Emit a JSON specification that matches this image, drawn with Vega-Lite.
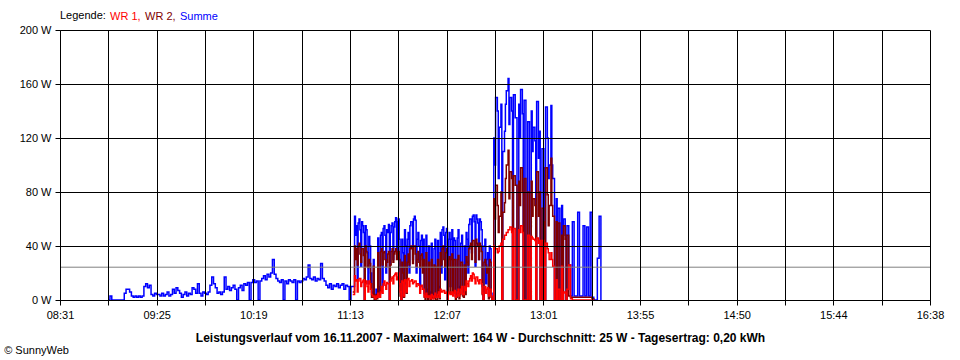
{
"$schema": "https://vega.github.io/schema/vega-lite/v6.json",
"width": 870, "height": 270,
"autosize": {"type": "none"},
"padding": {"left": 60, "top": 30, "right": 30, "bottom": 60},
"background": "white",
"config": {"view": {"stroke": null}, "font": "Liberation Sans"},
"title": {"text": "© SunnyWeb", "orient": "bottom", "anchor": "start", "frame": "bounds", "fontSize": 11, "fontWeight": "normal", "color": "black", "font": "Liberation Sans", "offset": 2, "dx": -15},
"layer": [
{
"data": {"values": [
{"t":538,"summe":0},{"t":539,"summe":3},{"t":540,"summe":0},{"t":546,"summe":0},{"t":547,"summe":5},{"t":548,"summe":8},{"t":549,"summe":8},{"t":550,"summe":6},{"t":551,"summe":3},{"t":552,"summe":2},{"t":553,"summe":3},{"t":554,"summe":2},{"t":555,"summe":3},{"t":556,"summe":2},{"t":557,"summe":3},{"t":558,"summe":10},{"t":559,"summe":12},{"t":560,"summe":9},{"t":561,"summe":11},{"t":562,"summe":4},{"t":563,"summe":3},{"t":564,"summe":5},{"t":565,"summe":4},{"t":566,"summe":4},{"t":567,"summe":3},{"t":568,"summe":5},{"t":569,"summe":3},{"t":570,"summe":4},{"t":571,"summe":6},{"t":572,"summe":3},{"t":573,"summe":4},{"t":574,"summe":8},{"t":575,"summe":5},{"t":576,"summe":9},{"t":577,"summe":7},{"t":578,"summe":5},{"t":579,"summe":2},{"t":580,"summe":4},{"t":581,"summe":6},{"t":582,"summe":3},{"t":583,"summe":5},{"t":584,"summe":4},{"t":585,"summe":9},{"t":586,"summe":8},{"t":587,"summe":5},{"t":588,"summe":12},{"t":589,"summe":5},{"t":590,"summe":3},{"t":591,"summe":6},{"t":592,"summe":5},{"t":593,"summe":4},{"t":594,"summe":6},{"t":595,"summe":11},{"t":596,"summe":17},{"t":597,"summe":12},{"t":598,"summe":9},{"t":599,"summe":5},{"t":600,"summe":6},{"t":601,"summe":4},{"t":602,"summe":6},{"t":603,"summe":17},{"t":604,"summe":8},{"t":605,"summe":10},{"t":606,"summe":7},{"t":607,"summe":9},{"t":608,"summe":11},{"t":609,"summe":8},{"t":610,"summe":0},{"t":611,"summe":9},{"t":612,"summe":11},{"t":613,"summe":7},{"t":614,"summe":12},{"t":615,"summe":11},{"t":616,"summe":13},{"t":617,"summe":0},{"t":618,"summe":13},{"t":619,"summe":15},{"t":620,"summe":13},{"t":621,"summe":14},{"t":622,"summe":0},{"t":623,"summe":14},{"t":624,"summe":16},{"t":625,"summe":18},{"t":626,"summe":15},{"t":627,"summe":19},{"t":628,"summe":17},{"t":629,"summe":20},{"t":630,"summe":30},{"t":631,"summe":19},{"t":632,"summe":16},{"t":633,"summe":14},{"t":634,"summe":13},{"t":635,"summe":15},{"t":636,"summe":0},{"t":637,"summe":14},{"t":638,"summe":12},{"t":639,"summe":15},{"t":640,"summe":14},{"t":641,"summe":13},{"t":642,"summe":15},{"t":643,"summe":0},{"t":644,"summe":14},{"t":645,"summe":13},{"t":646,"summe":14},{"t":647,"summe":16},{"t":648,"summe":15},{"t":649,"summe":17},{"t":650,"summe":26},{"t":651,"summe":16},{"t":652,"summe":15},{"t":653,"summe":17},{"t":654,"summe":14},{"t":655,"summe":16},{"t":656,"summe":15},{"t":657,"summe":27},{"t":658,"summe":16},{"t":659,"summe":14},{"t":660,"summe":11},{"t":661,"summe":9},{"t":662,"summe":12},{"t":663,"summe":8},{"t":664,"summe":11},{"t":665,"summe":10},{"t":666,"summe":12},{"t":667,"summe":9},{"t":668,"summe":11},{"t":669,"summe":12},{"t":670,"summe":8},{"t":671,"summe":11},{"t":672,"summe":10},{"t":673,"summe":0},{"t":674,"summe":10},
{"t":675,"summe":10,"wr1":4,"wr2":6},{"t":676,"summe":62,"wr1":18,"wr2":40},{"t":677,"summe":55,"wr1":15,"wr2":38},{"t":678,"summe":57,"wr1":14,"wr2":40},{"t":679,"summe":52,"wr1":16,"wr2":34},{"t":680,"summe":58,"wr1":13,"wr2":38},{"t":681,"summe":50,"wr1":15,"wr2":33},{"t":682,"summe":55,"wr1":12,"wr2":40},{"t":683,"summe":35,"wr1":10,"wr2":25},{"t":684,"summe":47,"wr1":14,"wr2":30},{"t":685,"summe":20,"wr1":8,"wr2":12},{"t":686,"summe":5,"wr1":3,"wr2":2},{"t":687,"summe":3,"wr1":2,"wr2":0},{"t":688,"summe":8,"wr1":3,"wr2":4},{"t":689,"summe":46,"wr1":5,"wr2":35},{"t":690,"summe":4,"wr1":2,"wr2":2},{"t":691,"summe":50,"wr1":10,"wr2":38},{"t":692,"summe":53,"wr1":12,"wr2":35},{"t":693,"summe":48,"wr1":11,"wr2":30},{"t":694,"summe":52,"wr1":13,"wr2":28},{"t":695,"summe":56,"wr1":12,"wr2":36},{"t":696,"summe":50,"wr1":14,"wr2":26},{"t":697,"summe":57,"wr1":17,"wr2":38},{"t":698,"summe":54,"wr1":18,"wr2":34},{"t":699,"summe":61,"wr1":20,"wr2":38},{"t":700,"summe":58,"wr1":17,"wr2":36},{"t":701,"summe":45,"wr1":12,"wr2":30},{"t":702,"summe":0,"wr1":0,"wr2":0},{"t":703,"summe":35,"wr1":13,"wr2":20},{"t":704,"summe":52,"wr1":15,"wr2":33},{"t":705,"summe":12,"wr1":6,"wr2":5},{"t":706,"summe":50,"wr1":16,"wr2":34},{"t":707,"summe":55,"wr1":14,"wr2":38},{"t":708,"summe":58,"wr1":15,"wr2":38},{"t":709,"summe":60,"wr1":13,"wr2":40},{"t":710,"summe":59,"wr1":14,"wr2":34},{"t":711,"summe":45,"wr1":12,"wr2":30},{"t":712,"summe":40,"wr1":11,"wr2":28},{"t":713,"summe":44,"wr1":10,"wr2":33},{"t":714,"summe":30,"wr1":8,"wr2":20},{"t":715,"summe":5,"wr1":3,"wr2":2},{"t":716,"summe":48,"wr1":5,"wr2":35},{"t":717,"summe":3,"wr1":2,"wr2":0},{"t":718,"summe":6,"wr1":3,"wr2":3},{"t":719,"summe":42,"wr1":4,"wr2":30},{"t":720,"summe":2,"wr1":1,"wr2":1},{"t":721,"summe":45,"wr1":5,"wr2":25},{"t":722,"summe":4,"wr1":2,"wr2":0},{"t":723,"summe":10,"wr1":6,"wr2":3},{"t":724,"summe":50,"wr1":8,"wr2":35},{"t":725,"summe":52,"wr1":6,"wr2":38},{"t":726,"summe":48,"wr1":7,"wr2":30},{"t":727,"summe":50,"wr1":5,"wr2":35},{"t":728,"summe":0,"wr1":0,"wr2":0},{"t":729,"summe":50,"wr1":6,"wr2":32},{"t":730,"summe":45,"wr1":4,"wr2":30},{"t":731,"summe":8,"wr1":3,"wr2":5},{"t":732,"summe":44,"wr1":7,"wr2":30},{"t":733,"summe":5,"wr1":3,"wr2":2},{"t":734,"summe":52,"wr1":8,"wr2":33},{"t":735,"summe":10,"wr1":5,"wr2":4},{"t":736,"summe":48,"wr1":10,"wr2":28},{"t":737,"summe":6,"wr1":4,"wr2":2},{"t":738,"summe":12,"wr1":7,"wr2":4},{"t":739,"summe":45,"wr1":12,"wr2":28},{"t":740,"summe":56,"wr1":14,"wr2":38},{"t":741,"summe":60,"wr1":18,"wr2":42},{"t":742,"summe":62,"wr1":20,"wr2":44},{"t":743,"summe":58,"wr1":16,"wr2":40},{"t":744,"summe":63,"wr1":17,"wr2":45},{"t":745,"summe":57,"wr1":14,"wr2":40},{"t":746,"summe":60,"wr1":15,"wr2":42},{"t":747,"summe":52,"wr1":12,"wr2":36},{"t":748,"summe":0,"wr1":0,"wr2":0},{"t":749,"summe":45,"wr1":10,"wr2":30},{"t":750,"summe":30,"wr1":8,"wr2":20},{"t":751,"summe":4,"wr1":3,"wr2":1},{"t":752,"summe":38,"wr1":8,"wr2":28},{"t":753,"summe":0,"wr1":0,"wr2":0},{"t":754,"summe":120,"wr1":40,"wr2":75},{"t":755,"summe":150,"wr1":38,"wr2":85},{"t":756,"summe":140,"wr1":35,"wr2":70},{"t":757,"summe":128,"wr1":40,"wr2":62},{"t":758,"summe":145,"wr1":42,"wr2":80},{"t":759,"summe":110,"wr1":45,"wr2":65},{"t":760,"summe":125,"wr1":48,"wr2":72},{"t":761,"summe":155,"wr1":50,"wr2":100},{"t":762,"summe":164,"wr1":52,"wr2":111},{"t":763,"summe":150,"wr1":54,"wr2":95},{"t":764,"summe":140,"wr1":50,"wr2":90},{"t":765,"summe":152,"wr1":53,"wr2":92},{"t":766,"summe":135,"wr1":0,"wr2":85},{"t":767,"summe":0,"wr1":0,"wr2":0},{"t":768,"summe":145,"wr1":52,"wr2":88},{"t":769,"summe":156,"wr1":55,"wr2":98},{"t":770,"summe":138,"wr1":50,"wr2":80},{"t":771,"summe":148,"wr1":0,"wr2":90},{"t":772,"summe":0,"wr1":0,"wr2":0},{"t":773,"summe":132,"wr1":48,"wr2":80},{"t":774,"summe":0,"wr1":0,"wr2":0},{"t":775,"summe":140,"wr1":47,"wr2":88},{"t":776,"summe":128,"wr1":45,"wr2":75},{"t":777,"summe":118,"wr1":44,"wr2":70},{"t":778,"summe":147,"wr1":46,"wr2":95},{"t":779,"summe":105,"wr1":42,"wr2":62},{"t":780,"summe":0,"wr1":0,"wr2":0},{"t":781,"summe":112,"wr1":44,"wr2":68},{"t":782,"summe":98,"wr1":40,"wr2":58},{"t":783,"summe":143,"wr1":42,"wr2":98},{"t":784,"summe":120,"wr1":38,"wr2":78},{"t":785,"summe":100,"wr1":30,"wr2":70},{"t":786,"summe":144,"wr1":35,"wr2":105},{"t":787,"summe":90,"wr1":25,"wr2":62},{"t":788,"summe":0,"wr1":0,"wr2":0},{"t":789,"summe":75,"wr1":15,"wr2":58},{"t":790,"summe":68,"wr1":8,"wr2":57},{"t":791,"summe":0,"wr1":0,"wr2":0},{"t":792,"summe":70,"wr1":25,"wr2":48},{"t":793,"summe":60,"wr1":6,"wr2":55},{"t":794,"summe":48,"wr1":5,"wr2":45},{"t":795,"summe":55,"wr1":8,"wr2":48},{"t":796,"summe":26,"wr1":26,"wr2":3},{"t":797,"summe":3,"wr1":1,"wr2":2},{"t":798,"summe":58,"wr1":0,"wr2":2},{"t":799,"summe":3,"wr1":0,"wr2":2},{"t":800,"summe":3,"wr1":0,"wr2":2},{"t":801,"summe":65,"wr1":0,"wr2":2},{"t":802,"summe":3,"wr1":0,"wr2":2},{"t":803,"summe":3,"wr1":0,"wr2":2},{"t":804,"summe":55,"wr1":0,"wr2":2},{"t":805,"summe":3,"wr1":0,"wr2":2},{"t":806,"summe":54,"wr1":0,"wr2":2},{"t":807,"summe":3,"wr1":0,"wr2":2},{"t":808,"summe":65,"wr1":0,"wr2":2},{"t":809,"summe":2,"wr1":0,"wr2":1},{"t":810,"summe":0,"wr1":0,"wr2":0},{"t":811,"summe":0},{"t":812,"summe":31},{"t":813,"summe":62},{"t":814,"summe":0},
{"t":676.5,"summe":48,"wr1":14,"wr2":30},{"t":677.5,"summe":15,"wr1":6,"wr2":26},{"t":678.5,"summe":60,"wr1":16,"wr2":42},{"t":679.5,"summe":25,"wr1":10,"wr2":28},{"t":680.5,"summe":55,"wr1":14,"wr2":38},{"t":681.5,"summe":0,"wr1":0,"wr2":0},{"t":682.5,"summe":52,"wr1":14,"wr2":36},{"t":683.5,"summe":12,"wr1":6,"wr2":24},{"t":684.5,"summe":40,"wr1":12,"wr2":27},{"t":685.5,"summe":6,"wr1":4,"wr2":2},{"t":686.5,"summe":30,"wr1":3,"wr2":25},{"t":687.5,"summe":2,"wr1":1,"wr2":0},{"t":688.5,"summe":4,"wr1":2,"wr2":1},{"t":689.5,"summe":10,"wr1":3,"wr2":5},{"t":690.5,"summe":48,"wr1":6,"wr2":36},{"t":691.5,"summe":10,"wr1":5,"wr2":26},{"t":692.5,"summe":55,"wr1":14,"wr2":36},{"t":693.5,"summe":20,"wr1":8,"wr2":25},{"t":694.5,"summe":50,"wr1":12,"wr2":34},{"t":695.5,"summe":0,"wr1":0,"wr2":0},{"t":696.5,"summe":55,"wr1":16,"wr2":36},{"t":697.5,"summe":30,"wr1":12,"wr2":28},{"t":698.5,"summe":58,"wr1":19,"wr2":36},{"t":699.5,"summe":35,"wr1":15,"wr2":30},{"t":700.5,"summe":60,"wr1":20,"wr2":36},{"t":701.5,"summe":10,"wr1":6,"wr2":3},{"t":702.5,"summe":45,"wr1":14,"wr2":28},{"t":703.5,"summe":5,"wr1":3,"wr2":2},{"t":704.5,"summe":40,"wr1":14,"wr2":24},{"t":705.5,"summe":45,"wr1":15,"wr2":28},{"t":706.5,"summe":20,"wr1":10,"wr2":26},{"t":707.5,"summe":58,"wr1":14,"wr2":40},{"t":708.5,"summe":30,"wr1":12,"wr2":27},{"t":709.5,"summe":62,"wr1":14,"wr2":40},{"t":710.5,"summe":20,"wr1":10,"wr2":25},{"t":711.5,"summe":50,"wr1":12,"wr2":36},{"t":712.5,"summe":10,"wr1":5,"wr2":24},{"t":713.5,"summe":48,"wr1":11,"wr2":34},{"t":714.5,"summe":45,"wr1":8,"wr2":30},{"t":715.5,"summe":3,"wr1":2,"wr2":0},{"t":716.5,"summe":8,"wr1":3,"wr2":4},{"t":717.5,"summe":40,"wr1":3,"wr2":28},{"t":718.5,"summe":2,"wr1":1,"wr2":0},{"t":719.5,"summe":5,"wr1":3,"wr2":2},{"t":720.5,"summe":38,"wr1":3,"wr2":26},{"t":721.5,"summe":3,"wr1":2,"wr2":0},{"t":722.5,"summe":44,"wr1":4,"wr2":30},{"t":723.5,"summe":4,"wr1":2,"wr2":1},{"t":724.5,"summe":20,"wr1":6,"wr2":26},{"t":725.5,"summe":54,"wr1":7,"wr2":40},{"t":726.5,"summe":15,"wr1":5,"wr2":25},{"t":727.5,"summe":53,"wr1":6,"wr2":38},{"t":728.5,"summe":45,"wr1":5,"wr2":30},{"t":729.5,"summe":10,"wr1":4,"wr2":5},{"t":730.5,"summe":52,"wr1":6,"wr2":34},{"t":731.5,"summe":46,"wr1":5,"wr2":30},{"t":732.5,"summe":3,"wr1":2,"wr2":0},{"t":733.5,"summe":46,"wr1":6,"wr2":30},{"t":734.5,"summe":5,"wr1":3,"wr2":1},{"t":735.5,"summe":42,"wr1":8,"wr2":28},{"t":736.5,"summe":8,"wr1":4,"wr2":3},{"t":737.5,"summe":40,"wr1":10,"wr2":26},{"t":738.5,"summe":50,"wr1":14,"wr2":32},{"t":739.5,"summe":20,"wr1":10,"wr2":26},{"t":740.5,"summe":60,"wr1":16,"wr2":40},{"t":741.5,"summe":35,"wr1":14,"wr2":30},{"t":742.5,"summe":63,"wr1":19,"wr2":44},{"t":743.5,"summe":25,"wr1":12,"wr2":28},{"t":744.5,"summe":60,"wr1":17,"wr2":42},{"t":745.5,"summe":30,"wr1":12,"wr2":30},{"t":746.5,"summe":58,"wr1":15,"wr2":40},{"t":747.5,"summe":10,"wr1":5,"wr2":4},{"t":748.5,"summe":40,"wr1":10,"wr2":28},{"t":749.5,"summe":12,"wr1":5,"wr2":26},{"t":750.5,"summe":35,"wr1":9,"wr2":24},{"t":751.5,"summe":40,"wr1":8,"wr2":30},{"t":752.5,"summe":5,"wr1":3,"wr2":2},
{"t":754.5,"summe":100,"wr1":38,"wr2":60},{"t":756.5,"summe":90,"wr1":36,"wr2":50},{"t":758.5,"summe":0,"wr1":0,"wr2":0},{"t":760.5,"summe":145,"wr1":48,"wr2":90},{"t":762.5,"summe":130,"wr1":52,"wr2":75},{"t":764.5,"summe":0,"wr1":0,"wr2":0},{"t":768.5,"summe":120,"wr1":50,"wr2":70},{"t":770.5,"summe":0,"wr1":0,"wr2":0},{"t":775.5,"summe":110,"wr1":46,"wr2":62},{"t":777.5,"summe":0,"wr1":0,"wr2":0},{"t":779.5,"summe":125,"wr1":44,"wr2":80},{"t":782.5,"summe":0,"wr1":0,"wr2":0},{"t":784.5,"summe":90,"wr1":35,"wr2":55},{"t":786.5,"summe":100,"wr1":30,"wr2":70},{"t":789.5,"summe":0,"wr1":0,"wr2":0},{"t":792.5,"summe":0,"wr1":0,"wr2":0},{"t":794.5,"summe":0,"wr1":0,"wr2":0}
]},
"encoding": {
  "x": {"field": "t", "type": "quantitative", "scale": {"domain": [511, 998.35], "nice": false, "zero": false},
    "axis": {"values": [511,538.075,565.15,592.225,619.3,646.375,673.45,700.525,727.6,754.675,781.75,808.825,835.9,862.975,890.05,917.125,944.2,971.275,998.35],
      "labelExpr": "round((datum.value-511)/27.075)%2 ? '' : (floor(datum.value/60)<10?'0':'') + floor(datum.value/60) + ':' + (floor(datum.value)%60<10?'0':'') + floor(datum.value)%60",
      "grid": true, "gridColor": "black", "gridOpacity": 1, "gridWidth": 1,
      "domainColor": "black", "domainWidth": 1, "tickColor": "black", "tickWidth": 1, "tickSize": 5,
      "labelColor": "black", "labelFont": "Liberation Sans", "labelFontSize": 11, "labelPadding": 4, "labelFlush": false, "labelOverlap": false,
      "title": "Leistungsverlauf vom 16.11.2007 - Maximalwert: 164 W - Durchschnitt: 25 W - Tagesertrag: 0,20 kWh",
      "titleFont": "Liberation Sans", "titleFontSize": 12, "titleFontWeight": "bold", "titleColor": "black",
      "titleX": 420, "titleY": 41, "titleAlign": "center", "titleBaseline": "alphabetic", "titleAnchor": null,
      "zindex": 1}
  }
},
"layer": [
  {"mark": {"type": "line", "interpolate": "step-after", "strokeWidth": 1.5},
   "encoding": {
     "y": {"field": "summe", "type": "quantitative", "scale": {"domain": [0, 200], "nice": false},
       "axis": {"values": [0,40,80,120,160,200], "labelExpr": "datum.value + ' W'", "title": null,
         "grid": true, "gridColor": "black", "gridOpacity": 1, "gridWidth": 1,
         "domainColor": "black", "domainWidth": 1, "tickColor": "black", "tickWidth": 1, "tickSize": 5,
         "labelColor": "black", "labelFont": "Liberation Sans", "labelFontSize": 11, "labelPadding": 4, "labelFlush": false, "labelOverlap": false, "zindex": 1}},
     "color": {"datum": "Summe", "type": "nominal",
       "scale": {"domain": ["WR 1", "WR 2", "Summe"], "range": ["#ff0000", "#800000", "#0000ff"]},
       "legend": {"orient": "top", "title": "Legende:", "titleOrient": "left", "direction": "horizontal",
         "titleFont": "Liberation Sans", "titleFontSize": 11, "titleFontWeight": "normal", "titleColor": "black", "titlePadding": 3,
         "labelFont": "Liberation Sans", "labelFontSize": 11, "labelOffset": -10, "columnPadding": 3,
         "symbolSize": 0, "symbolOpacity": 0, "symbolStrokeWidth": 0, "padding": 0, "offset": 8,
         "labelExpr": "datum.label == 'Summe' ? datum.label : datum.label + ','",
         "encode": {"labels": {"update": {"fill": {"scale": "color", "field": "value"}}}}}}
   }},
  {"mark": {"type": "line", "interpolate": "step-after", "strokeWidth": 1.5},
   "encoding": {"y": {"field": "wr2", "type": "quantitative"}, "color": {"datum": "WR 2", "type": "nominal"}}},
  {"mark": {"type": "line", "interpolate": "step-after", "strokeWidth": 1.5},
   "encoding": {"y": {"field": "wr1", "type": "quantitative"}, "color": {"datum": "WR 1", "type": "nominal"}}}
]
},
{
"data": {"values": [{"durchschnitt": 24.3}]},
"mark": {"type": "rule", "color": "#808080", "strokeWidth": 1},
"encoding": {"y": {"field": "durchschnitt", "type": "quantitative"}}
}
]
}
